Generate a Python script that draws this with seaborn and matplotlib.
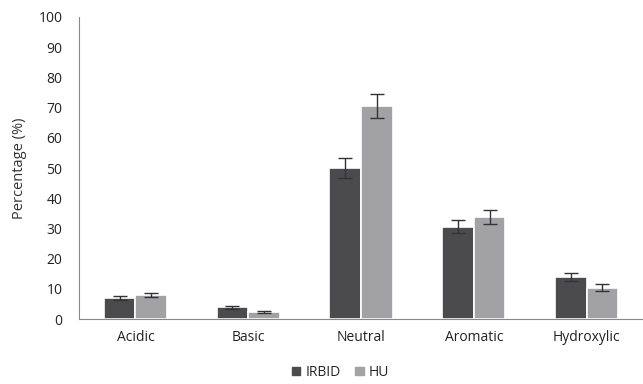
import numpy as np
import pandas as pd
import matplotlib
matplotlib.use("Agg")
import matplotlib.pyplot as plt
import seaborn as sns

categories = ['Acidic', 'Basic', 'Neutral', 'Aromatic', 'Hydroxylic']
groups = ['IRBID', 'HU']
irbid = [7.0, 4.0, 50.0, 30.6, 14.0]
hu = [8.0, 2.3, 70.5, 33.7, 10.4]
irbid_err = [0.8, 0.5, 3.3, 2.1, 1.4]
hu_err = [0.6, 0.3, 4.0, 2.3, 1.2]
colors = ['#4b4b4d', '#a2a2a5']

df = pd.DataFrame({
    'Category': categories * 2,
    'Site': ['IRBID'] * 5 + ['HU'] * 5,
    'Value': irbid + hu,
})

sns.set_style("white")
plt.rcParams['font.family'] = ['Open Sans', 'DejaVu Sans']

fig = plt.figure(figsize=(6.43, 3.84), dpi=100)
ax = fig.add_axes([0.123, 0.169, 0.877, 0.787])

sns.barplot(ax=ax, data=df, x='Category', y='Value', hue='Site', order=categories,
            hue_order=groups, palette=colors, width=0.56, edgecolor='white',
            linewidth=1.2, errorbar=None, legend=False)

# error bars at bar centres
errs = irbid_err + hu_err
for patch, e in zip(ax.patches, errs):
    xc = patch.get_x() + patch.get_width() / 2
    ax.errorbar(xc, patch.get_height(), yerr=e, color='#333333', capsize=5,
                elinewidth=1, capthick=1)

ax.set_xlim(-0.5, 4.5)
ax.set_ylim(0, 100)
ax.set_yticks(range(0, 101, 10))
ax.set_ylabel('Percentage (%)', fontsize=10.5, color='#333333', labelpad=8)
ax.set_xlabel('')
ax.set_xticks(np.arange(-0.5, 5, 1), minor=True)
ax.tick_params(axis='x', which='major', length=0, labelsize=10, colors='#222222', pad=8)
ax.tick_params(axis='x', which='minor', length=5, color='#888888', direction='out')
ax.tick_params(axis='y', length=0, labelsize=10, colors='#222222', pad=12)
for s in ['top', 'right']:
    ax.spines[s].set_visible(False)
for s in ['left', 'bottom']:
    ax.spines[s].set_color('#888888')

handles = [plt.Rectangle((0, 0), 1, 1, color=c) for c in colors]
fig.legend(handles, groups, loc='lower center', ncol=2, frameon=False,
           bbox_to_anchor=(0.53, -0.022), handlelength=0.6, handleheight=0.6,
           handletextpad=0.4, columnspacing=1.0, fontsize=10)

fig.savefig('out.png', dpi=100)
